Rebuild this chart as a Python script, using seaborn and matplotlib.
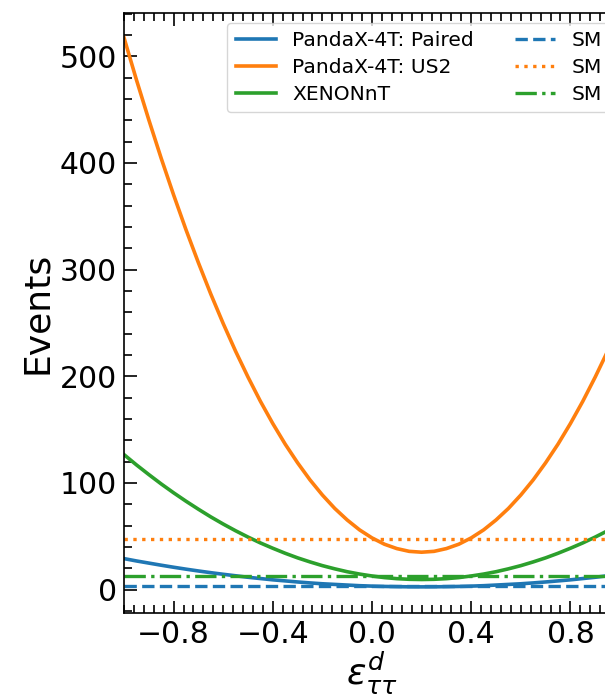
import numpy as np
import pandas as pd
import matplotlib
matplotlib.use("Agg")
import matplotlib.pyplot as plt
from matplotlib.ticker import MultipleLocator
import seaborn as sns

# epsilon grid and event counts
eps = [-1.00, -0.95, -0.90, -0.85, -0.80, -0.75, -0.70, -0.65, -0.60, -0.55,
       -0.50, -0.45, -0.40, -0.35, -0.30, -0.25, -0.20, -0.15, -0.10, -0.05,
       0.00, 0.05, 0.10, 0.15, 0.20, 0.25, 0.30, 0.35, 0.40, 0.45,
       0.50, 0.55, 0.60, 0.65, 0.70, 0.75, 0.80, 0.85, 0.90, 0.95, 1.00]
paired = [29.0, 26.8, 24.8, 22.8, 20.9, 19.1, 17.4, 15.8, 14.3, 12.9,
          11.5, 10.3, 9.1, 8.1, 7.1, 6.2, 5.4, 4.8, 4.2, 3.6,
          3.2, 2.9, 2.7, 2.55, 2.5, 2.55, 2.7, 2.9, 3.2, 3.6,
          4.2, 4.8, 5.4, 6.2, 7.1, 8.1, 9.1, 10.3, 11.5, 12.9, 14.3]
us2 = [517.4, 478.0, 440.4, 404.3, 370.0, 337.3, 306.4, 277.0, 249.4, 223.4,
       199.2, 176.5, 155.6, 136.3, 118.8, 102.8, 88.6, 76.0, 65.2, 55.9,
       48.4, 42.5, 38.4, 35.8, 35.0, 35.8, 38.4, 42.5, 48.4, 55.9,
       65.2, 76.0, 88.6, 102.8, 118.8, 136.3, 155.6, 176.5, 199.2, 223.4, 249.4]
xenon = [126.5, 116.9, 107.8, 99.0, 90.7, 82.8, 75.3, 68.1, 61.4, 55.1,
         49.2, 43.7, 38.7, 34.0, 29.7, 25.9, 22.4, 19.4, 16.7, 14.5,
         12.7, 11.2, 10.2, 9.6, 9.4, 9.6, 10.2, 11.2, 12.7, 14.5,
         16.7, 19.4, 22.4, 25.9, 29.7, 34.0, 38.7, 43.7, 49.2, 55.1, 61.4]

# Standard Model expectations
sm_paired = 3.5
sm_us2 = 47.5
sm_xenon = 12.8

labels = ["PandaX-4T: Paired", "PandaX-4T: US2", "XENONnT"]
colors = ["#1f77b4", "#ff7f0e", "#2ca02c"]

df = pd.DataFrame({"eps": eps, labels[0]: paired, labels[1]: us2, labels[2]: xenon})

fig = plt.figure(figsize=(6.05, 6.97), dpi=100)
# axes run past the right edge, as in the reference crop
ax = fig.add_axes([124 / 605, 84 / 697, 496 / 605, 600.5 / 697])

for name, c in zip(labels, colors):
    sns.lineplot(data=df, x="eps", y=name, ax=ax, color=c, lw=2.6, label=name)

ax.axhline(sm_paired, color=colors[0], ls="--", lw=2.4, label="SM")
ax.axhline(sm_us2, color=colors[1], ls=":", lw=2.4, label="SM")
ax.axhline(sm_xenon, color=colors[2], ls="-.", lw=2.4, label="SM")

ax.set_xlim(-1.0, 1.0)
ax.set_ylim(-22, 541)
ax.xaxis.set_major_locator(MultipleLocator(0.4))
ax.xaxis.set_minor_locator(MultipleLocator(0.04))
ax.yaxis.set_major_locator(MultipleLocator(100))
ax.yaxis.set_minor_locator(MultipleLocator(20))
ax.tick_params(which="both", direction="in", top=True, right=True, width=1.2)
ax.tick_params(which="major", length=9, labelsize=21.5, pad=5)
ax.tick_params(which="minor", length=5.5)
for sp in ax.spines.values():
    sp.set_linewidth(1.2)

ax.set_xlabel(r"$\epsilon^{d}_{\tau\tau}$", fontsize=26, labelpad=0.5)
ax.set_ylabel("Events", fontsize=26)

ax.legend(ncol=2, loc="upper right", fontsize=14.6, labelspacing=0.4)

fig.savefig("out.png", dpi=100)
